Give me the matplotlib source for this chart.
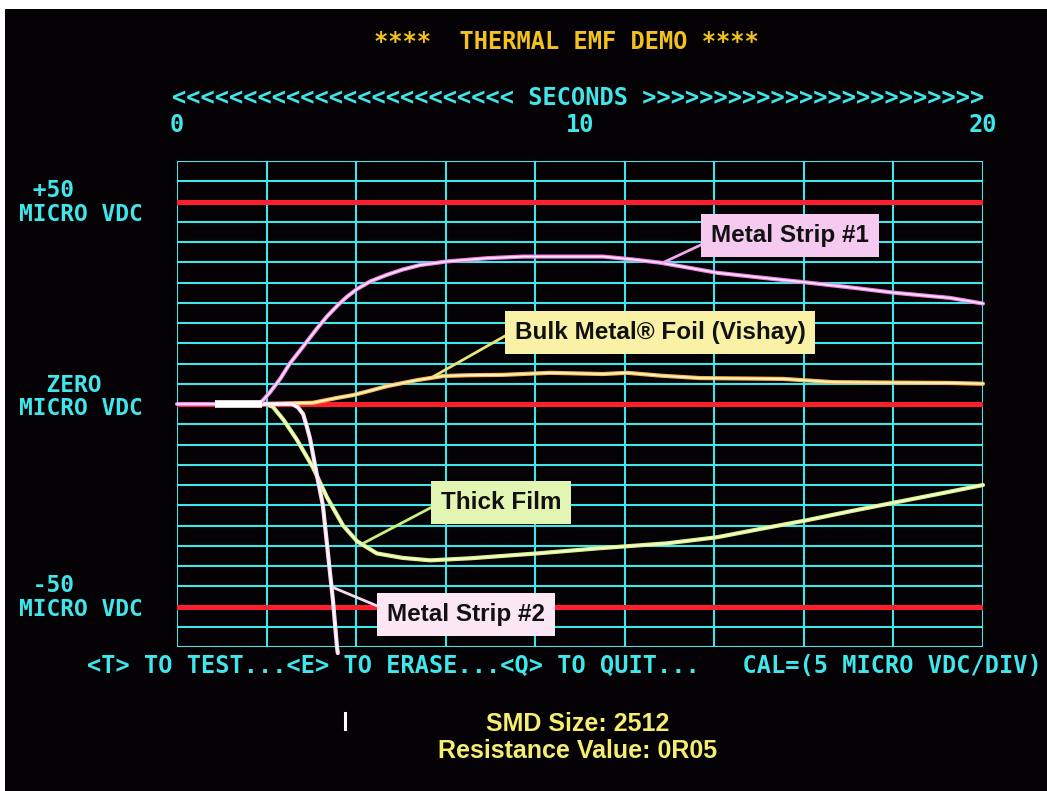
import numpy as np
import matplotlib
matplotlib.use("Agg")
import matplotlib.pyplot as plt
from matplotlib.patches import Rectangle
from matplotlib.transforms import ScaledTranslation

# ---------------- data ----------------
title_text = "****  THERMAL EMF DEMO ****"
seconds_text = "<" * 24 + " SECONDS " + ">" * 24
x_ticks = [0, 10, 20]
x_tick_labels = ["0", "10", "20"]
y_ticks = [50, 0, -50]
y_tick_labels = [" +50\nMICRO VDC", "  ZERO\nMICRO VDC", " -50\nMICRO VDC"]
footer_text = "<T> TO TEST...<E> TO ERASE...<Q> TO QUIT...   CAL=(5 MICRO VDC/DIV)"
caption_lines = ["SMD Size: 2512", "Resistance Value: 0R05"]

ms1_t = [0, 0.95, 2.05, 2.3, 2.56, 2.80, 3.13, 3.47, 3.72, 4.0, 4.22, 4.47, 4.8, 5.21, 5.6,
         6.03, 6.70, 7.69, 8.59, 9.5, 10.57, 11.3, 11.99, 13.40, 14.5, 15.63, 16.7, 17.77, 19.18, 20.0]
ms1_v = [0, 0, 0, 2.8, 6.2, 10.0, 14.2, 18.6, 21.6, 24.5, 26.5, 28.4, 30.3, 31.9, 33.2,
         34.3, 35.2, 36.0, 36.4, 36.4, 36.4, 35.7, 34.9, 32.4, 31.2, 30.0, 28.8, 27.5, 26.2, 24.8]

bulk_t = [0.95, 2.1, 3.37, 3.97, 4.37, 4.8, 5.21, 5.96, 6.6, 7.2, 8.09, 9.26, 10.57, 11.17,
          12.0, 12.98, 15.04, 16.28, 17.5, 19.18, 20.0]
bulk_v = [0, 0, 0.3, 1.5, 2.2, 3.3, 4.4, 5.9, 6.9, 7.1, 7.2, 7.7, 7.4, 7.7,
          7.0, 6.4, 6.2, 5.4, 5.3, 5.2, 5.0]

thick_t = [0.95, 2.2, 2.38, 2.65, 2.98, 3.37, 3.72, 4.12, 4.47, 4.96, 5.6, 6.28, 7.27, 8.93,
           10.5, 12.16, 13.4, 14.5, 15.63, 16.7, 17.82, 19.0, 20.0]
thick_v = [0, 0, -0.7, -4.0, -8.9, -15.6, -23.0, -30.0, -33.9, -36.9, -38.0, -38.6, -38.1, -36.9,
           -35.6, -34.4, -32.9, -30.8, -28.7, -26.5, -24.3, -22.0, -20.0]

ms2_t = [0.95, 2.85, 3.0, 3.13, 3.22, 3.30, 3.47, 3.62, 3.80, 3.87, 3.97, 3.99]
ms2_v = [0, 0, -0.8, -2.5, -5.5, -8.5, -17.5, -25.0, -42.0, -48.5, -60.0, -61.5]
ms2_glitch_t = [4.17, 4.17]
ms2_glitch_v = [-76.2, -80.2]

labels = ["Metal Strip #1", "Bulk Metal\u00ae Foil (Vishay)", "Thick Film", "Metal Strip #2"]
label_xy = [(12.06, 34.9), (6.35, 6.7), (4.62, -34.4), (3.87, -45.3)]
label_text_xy = [(15.21, 41.6), (11.99, 17.6), (8.04, -24.3), (7.17, -52.0)]

# ---------------- style ----------------
BG = "#040205"
CYAN = "#3fe6ea"
RED = "#ff1e2c"
MONO = "DejaVu Sans Mono"
SANS = ["Liberation Sans", "DejaVu Sans"]

fig = plt.figure(figsize=(10.47, 7.91), dpi=100, facecolor=BG)
W, H = 1047, 791
ax = fig.add_axes([177 / W, 1 - 647 / H, 806 / W, 486 / H])
ax.set_facecolor(BG)
ax.set_xlim(0, 20)
ax.set_ylim(-60, 60)
for s in ax.spines.values():
    s.set_visible(False)

# grid
for xv in np.linspace(0, 20, 10):
    ax.axvline(xv, color=CYAN, lw=1.5, zorder=1)
for yv in np.arange(-60, 61, 5):
    ax.axhline(yv, color=CYAN, lw=1.5, zorder=1)
for yv in y_ticks:
    ax.axhline(yv, color=RED, lw=3.6, zorder=2)

# ticks
ax.xaxis.tick_top()
ax.set_xticks(x_ticks)
ax.set_xticklabels(x_tick_labels, fontfamily=MONO, fontweight="bold", fontsize=17, color=CYAN)
ax.tick_params(axis="x", length=0, pad=17)
ax.set_yticks(y_ticks)
ax.set_yticklabels(y_tick_labels, fontfamily=MONO, fontweight="bold", fontsize=16.5,
                   color=CYAN, multialignment="left", linespacing=1.05)
ax.tick_params(axis="y", length=0, pad=25)
for lab, dy in zip(ax.get_yticklabels(), [2, 10, 12]):
    lab.set_transform(lab.get_transform() + ScaledTranslation(0, dy / 100, fig.dpi_scale_trans))

# traces (glow + core)
def trace(t, v, glow, core, gw=3.0, cw=1.3, z=5):
    ax.plot(t, v, color=glow, lw=gw, solid_capstyle="round", solid_joinstyle="round",
            zorder=z, clip_on=False)
    ax.plot(t, v, color=core, lw=cw, solid_capstyle="round", solid_joinstyle="round",
            zorder=z + 0.1, clip_on=False)

trace(thick_t, thick_v, "#d8f27e", "#f6ffd4", z=5)
trace(bulk_t, bulk_v, "#ffb64e", "#fff6c8", z=6)
trace(ms2_t, ms2_v, "#ffd4f0", "#ffffff", z=7)
trace(ms1_t, ms1_v, "#f27fe6", "#ffe6fb", z=8)
ax.plot([0.95, 2.1], [0, 0], color="#ffffff", lw=5.5, solid_capstyle="butt", zorder=9)
ax.plot(ms2_glitch_t, ms2_glitch_v, color="#ffffff", lw=2.2, clip_on=False, zorder=8)

# callouts
box_colors = ["#f6c9f1", "#f9f2a6", "#e2f5b2", "#fbe7f3"]
line_colors = ["#f3a6ec", "#ece27a", "#cdf07a", "#f8d9ee"]
relpos = [(0.0, 0.3), (0.0, 0.6), (0.0, 0.5), (0.0, 0.7)]
for txt, xy, xyt, bc, lc, rp in zip(labels, label_xy, label_text_xy, box_colors, line_colors, relpos):
    ax.annotate(txt, xy=xy, xytext=xyt, textcoords="data", ha="center", va="center",
                fontsize=17.5, fontweight="bold", family=SANS, color="#111111",
                bbox=dict(boxstyle="square,pad=0.4", fc=bc, ec="none"),
                arrowprops=dict(arrowstyle="-", color=lc, lw=2.0, shrinkA=0, shrinkB=0,
                                relpos=rp),
                zorder=10)

# header / footer text
fig.text(566 / W, 1 - 42 / H, title_text, ha="center", va="center", fontfamily=MONO,
         fontweight="bold", fontsize=17, color="#f3c21c")
fig.text(578 / W, 1 - 98 / H, seconds_text, ha="center", va="center", fontfamily=MONO,
         fontweight="bold", fontsize=17, color=CYAN)
fig.text(87 / W, 1 - 666 / H, footer_text, ha="left", va="center", fontfamily=MONO,
         fontweight="bold", fontsize=17, color=CYAN)
fig.text(578 / W, 1 - 724 / H, caption_lines[0], ha="center", va="center", family=SANS,
         fontweight="bold", fontsize=18, color="#f5ee70")
fig.text(578 / W, 1 - 751 / H, caption_lines[1], ha="center", va="center", family=SANS,
         fontweight="bold", fontsize=18, color="#f5ee70")

# photo border strips
fig.patches.append(Rectangle((0, 1 - 9 / H), 1, 9 / H, transform=fig.transFigure,
                             fc="white", ec="none", zorder=0))
fig.patches.append(Rectangle((0, 0), 5 / W, 1, transform=fig.transFigure,
                             fc="white", ec="none", zorder=0))

fig.savefig("out.png", dpi=100, facecolor=BG)
